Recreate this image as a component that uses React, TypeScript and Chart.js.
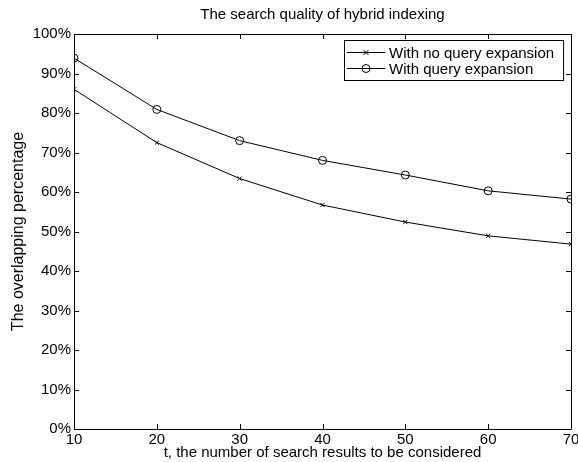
import React, { useEffect, useRef } from "react";
import { Chart, registerables } from "chart.js";

Chart.register(...registerables);

const tValues = [10, 20, 30, 40, 50, 60, 70];
const noExpansion = [86.0, 72.5, 63.4, 56.7, 52.4, 48.9, 46.8];
const withExpansion = [93.9, 80.9, 73.0, 68.0, 64.3, 60.3, 58.2];
const seriesNames = ["With no query expansion", "With query expansion"];
const titleText = "The search quality of hybrid indexing";
const xTitle = "t, the number of search results to be considered";
const yTitle = "The overlapping percentage";

const FONT = "Liberation Sans, Arial, Helvetica, sans-serif";
const FS = 15;

const framePlugin = {
  id: "frame",
  afterDraw(chart: any) {
    const { ctx, chartArea: a, scales } = chart;
    const x = scales.x, y = scales.y;
    ctx.save();
    ctx.strokeStyle = "#000";
    ctx.lineWidth = 1;
    ctx.beginPath();
    ctx.rect(Math.round(a.left) + 0.5, Math.round(a.top) + 0.5, Math.round(a.right - a.left), Math.round(a.bottom - a.top));
    ctx.stroke();
    const tl = 5;
    ctx.beginPath();
    x.ticks.forEach((t: any) => {
      const px = Math.round(x.getPixelForValue(t.value)) + 0.5;
      ctx.moveTo(px, a.bottom);
      ctx.lineTo(px, a.bottom - tl);
      ctx.moveTo(px, a.top);
      ctx.lineTo(px, a.top + tl);
    });
    y.ticks.forEach((t: any) => {
      const py = Math.round(y.getPixelForValue(t.value)) + 0.5;
      ctx.moveTo(a.left, py);
      ctx.lineTo(a.left + tl, py);
      ctx.moveTo(a.right, py);
      ctx.lineTo(a.right - tl, py);
    });
    ctx.stroke();

    // titles
    ctx.fillStyle = "#000";
    ctx.font = `${FS}px ${FONT}`;
    ctx.textAlign = "center";
    ctx.textBaseline = "alphabetic";
    const cx = (a.left + a.right) / 2;
    ctx.fillText(titleText, cx, a.top - 15);
    ctx.fillText(xTitle, cx, a.bottom + 28);
    ctx.save();
    ctx.font = `16px ${FONT}`;
    ctx.translate(23, (a.top + a.bottom) / 2);
    ctx.rotate(-Math.PI / 2);
    ctx.fillText(yTitle, 0, 0);
    ctx.restore();

    // legend
    const sample = 38;
    const padL = 3;
    const padR = 9;
    const gap = 4;
    const rowH = 16;
    const tw = Math.max(...seriesNames.map((s) => ctx.measureText(s).width));
    const w = padL + sample + gap + tw + padR;
    const h = 40;
    const bx = Math.round(a.right - 8 - w);
    const by = Math.round(a.top + 6);
    ctx.fillStyle = "#fff";
    ctx.fillRect(bx, by, w, h);
    ctx.strokeStyle = "#000";
    ctx.strokeRect(bx + 0.5, by + 0.5, w, h);
    ctx.textAlign = "left";
    ctx.textBaseline = "middle";
    seriesNames.forEach((name, i) => {
      const ry = Math.round(by + 12 + rowH * i) + 0.5;
      const sx = bx + padL;
      ctx.beginPath();
      ctx.moveTo(sx, ry);
      ctx.lineTo(sx + sample, ry);
      ctx.stroke();
      const mx = sx + sample / 2;
      ctx.beginPath();
      if (i === 0) {
        const r = 2.5;
        ctx.moveTo(mx - r, ry - r);
        ctx.lineTo(mx + r, ry + r);
        ctx.moveTo(mx - r, ry + r);
        ctx.lineTo(mx + r, ry - r);
      } else {
        ctx.arc(mx, ry, 4, 0, Math.PI * 2);
      }
      ctx.stroke();
      ctx.fillStyle = "#000";
      ctx.fillText(name, sx + sample + gap, ry + 1);
    });
    ctx.restore();
  },
};

export default function App() {
  const ref = useRef<HTMLCanvasElement | null>(null);
  useEffect(() => {
    document.body.style.margin = "0";
    if (!ref.current) return;
    const chart = new Chart(ref.current, {
      type: "line",
      data: {
        datasets: [
          {
            label: seriesNames[0],
            data: tValues.map((t, i) => ({ x: t, y: noExpansion[i] })),
            borderColor: "#000",
            borderWidth: 1,
            pointStyle: "crossRot",
            pointRadius: 3,
            pointBorderColor: "#000",
            pointBorderWidth: 1,
            pointBackgroundColor: "transparent",
            tension: 0,
          },
          {
            label: seriesNames[1],
            data: tValues.map((t, i) => ({ x: t, y: withExpansion[i] })),
            borderColor: "#000",
            borderWidth: 1,
            pointStyle: "circle",
            pointRadius: 4,
            pointBorderColor: "#000",
            pointBorderWidth: 1,
            pointBackgroundColor: "transparent",
            tension: 0,
          },
        ],
      },
      options: {
        responsive: false,
        animation: false,
        layout: { padding: { top: 34, right: 7, left: 0, bottom: 0 } },
        plugins: { legend: { display: false }, title: { display: false }, tooltip: { enabled: false } },
        scales: {
          x: {
            type: "linear",
            min: 10,
            max: 70,
            ticks: { stepSize: 10, color: "#000", font: { family: FONT, size: FS }, padding: 2, maxRotation: 0 },
            grid: { display: false, drawTicks: false },
            border: { display: false },
            afterFit: (s: any) => {
              s.height = 33;
              s.paddingLeft = 0;
              s.paddingRight = 0;
            },
          },
          y: {
            type: "linear",
            min: 0,
            max: 100,
            ticks: { stepSize: 10, color: "#000", font: { family: FONT, size: FS }, padding: 3, callback: (v: any) => v + "%" },
            grid: { display: false, drawTicks: false },
            border: { display: false },
            afterFit: (s: any) => {
              s.width = 74;
              s.paddingTop = 0;
              s.paddingBottom = 0;
            },
          },
        },
      },
      plugins: [framePlugin],
    });
    return () => chart.destroy();
  }, []);
  return (
    <div style={{ position: "absolute", left: 0, top: 0, width: 578, height: 462 }}>
      <canvas ref={ref} width={578} height={462} />
    </div>
  );
}
